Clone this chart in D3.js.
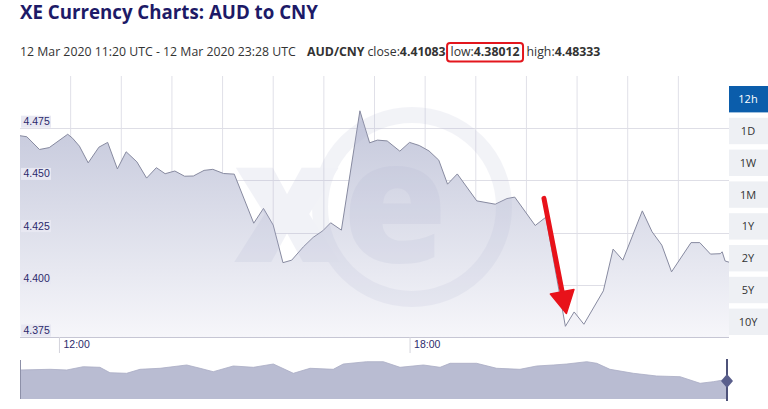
<!DOCTYPE html>
<html>
<head>
<meta charset="utf-8">
<script src="https://cdn.jsdelivr.net/npm/d3@7"></script>
<style>
  html, body { margin: 0; padding: 0; background: #fff; }
  svg { display: block; }
</style>
</head>
<body>
<svg id="chart" width="768" height="409"></svg>
<script>
// ---------------- DATA ----------------
const titleText = "XE Currency Charts: AUD to CNY";
const rangeText = "12 Mar 2020 11:20 UTC - 12 Mar 2020 23:28 UTC";
const pairText = "AUD/CNY";
const closeValue = "4.41083";
const lowValue = "4.38012";
const highValue = "4.48333";

const dateStr = "2020-03-12";
const startTime = "11:20";
const endTime = "23:28";

const times = ["11:20","11:27","11:40","11:50","12:09","12:14","12:21","12:30","12:41","12:50",
  "13:00","13:09","13:20","13:30","13:40","13:49","13:59","14:09","14:18","14:29",
  "14:38","14:49","15:00","15:20","15:30","15:40","15:50","15:59","16:11","16:21",
  "16:31","16:39","16:50","17:09","17:19","17:27","17:37","17:50","18:00","18:10",
  "18:20","18:30","18:39","18:49","19:09","19:28","19:40","19:48","20:09","20:20",
  "20:40","20:49","20:59","21:19","21:29","21:39","21:59","22:09","22:19","22:29",
  "22:49","22:58","23:09","23:19","23:21","23:24","23:28"];
const rates = [4.4714,4.4709,4.4648,4.4657,4.4721,4.4702,4.4664,4.4584,4.4659,4.4682,
  4.4555,4.4637,4.4589,4.4511,4.4561,4.4532,4.4545,4.4520,4.4521,4.4548,
  4.4553,4.4533,4.4530,4.4295,4.4366,4.4286,4.4106,4.4118,4.4182,4.4227,
  4.4259,4.4297,4.4262,4.48333,4.4680,4.4693,4.4689,4.4640,4.4682,4.4667,
  4.4641,4.4597,4.4482,4.4531,4.4402,4.4386,4.4413,4.4420,4.4284,4.4324,
  4.38012,4.3870,4.3811,4.3971,4.4171,4.4118,4.4354,4.4254,4.4190,4.4062,
  4.4202,4.4202,4.4147,4.4149,4.4158,4.4114,4.41083];

const yDomain = [4.375, 4.5];
const yTicks = [4.375, 4.400, 4.425, 4.450, 4.475];
const xTickLabels = ["12:00", "18:00"];

// navigator (longer history, hours from start of navigator window)
const navHours = [0,1.53,2.38,3.22,4.07,4.58,5.43,6.11,7.13,8.49,9.17,9.84,10.86,11.88,12.9,13.92,
  14.77,15.95,16.46,17.65,18.5,19.35,20.54,21.39,21.9,23.25,24.27,25.46,26.31,27.16,27.84,
  28.86,29.37,30.04,31.23,32.42,33.61,34.63,35.3,35.81,36];
const navRates = [4.4636,4.4675,4.4636,4.4822,4.4788,4.4484,4.4450,4.4675,4.4732,4.4918,4.4732,4.4540,
  4.4862,4.4788,4.4974,4.4450,4.4732,4.4675,4.4974,4.5104,4.5104,4.4788,4.4918,4.4788,4.5014,
  4.5014,4.4732,4.4675,4.4862,4.4918,4.4974,4.5104,4.5014,4.4675,4.4450,4.4297,4.4258,4.3886,
  4.3976,4.4072,4.4072];
const navDomain = [4.30, 4.52];

const rangeButtons = ["12h","1D","1W","1M","1Y","2Y","5Y","10Y"];
const activeRange = "12h";

// annotation arrow (points in data space)
const arrowFrom = { t: "20:18", v: 4.4414 };
const arrowTo = { t: "20:41", v: 4.3863 };

// ---------------- DRAW ----------------
const parse = d3.utcParse("%Y-%m-%d %H:%M");
const T = s => parse(dateStr + " " + s);
const data = times.map((t, i) => ({ t: T(t), v: rates[i] }));

const svg = d3.select("#chart");
const M = { left: 20, right: 729, top: 76, bottom: 337 };

const x = d3.scaleUtc().domain([T(startTime), T(endTime)]).range([M.left, M.right]);
const y = d3.scaleLinear().domain(yDomain).range([M.bottom, M.top]);

// Title (fit to reference width)
const title = svg.append("text")
  .attr("x", 20).attr("y", 19)
  .attr("font-family", "'Open Sans', sans-serif")
  .attr("font-weight", 700).attr("font-size", 18)
  .attr("fill", "#1d1a67")
  .text(titleText);
{
  const w = title.node().getComputedTextLength();
  if (w > 0) title.attr("font-size", Math.min(20, 18 * 298 / w));
}

// Subtitle: sequential segments measured in place
const sub = svg.append("g")
  .attr("font-family", "'Open Sans', sans-serif")
  .attr("font-size", 12.3).attr("fill", "#333");
sub.append("text").attr("x", 20).attr("y", 56).text(rangeText);
const segs = [
  { t: pairText, b: true, gap: 0 },
  { t: "close:", b: false, gap: 3 },
  { t: closeValue, b: true, gap: 0 },
  { t: "low:", b: false, gap: 5, low: true },
  { t: lowValue, b: true, gap: 0, low: true },
  { t: "high:", b: false, gap: 7 },
  { t: highValue, b: true, gap: 0 }
];
let cx = 307, lowStart = null, lowEnd = null;
segs.forEach(s => {
  cx += s.gap;
  const el = sub.append("text").attr("x", cx).attr("y", 56)
    .attr("font-weight", s.b ? 700 : 400).text(s.t);
  const w = el.node().getComputedTextLength();
  if (s.low && lowStart === null) lowStart = cx;
  if (s.low) lowEnd = cx + w;
  cx += w;
});

// red box around low
svg.append("rect")
  .attr("x", lowStart - 3.5).attr("y", 43).attr("width", lowEnd - lowStart + 7).attr("height", 18.5).attr("rx", 3)
  .attr("fill", "none").attr("stroke", "#e3161d").attr("stroke-width", 2);

// gradient
const defs = svg.append("defs");
const grad = defs.append("linearGradient").attr("id", "areaGrad")
  .attr("gradientUnits", "userSpaceOnUse")
  .attr("x1", 0).attr("x2", 0).attr("y1", M.top).attr("y2", M.bottom);
grad.append("stop").attr("offset", 0).attr("stop-color", "#bcc0d6");
grad.append("stop").attr("offset", 1).attr("stop-color", "#f6f6fa");

// gridlines
const gx = d3.scaleLinear().domain([0, 14]).range([M.left, M.right]);
svg.append("g").selectAll("line").data(d3.range(1, 14)).join("line")
  .attr("x1", d => gx(d)).attr("x2", d => gx(d))
  .attr("y1", M.top).attr("y2", M.bottom)
  .attr("stroke", "#e0e0e8").attr("stroke-width", 1);
svg.append("g").selectAll("line").data(yTicks.slice(1)).join("line")
  .attr("x1", M.left).attr("x2", M.right)
  .attr("y1", d => Math.round(y(d)) + 0.5).attr("y2", d => Math.round(y(d)) + 0.5)
  .attr("stroke", "#dedee6").attr("stroke-width", 1);

// area + line
svg.append("path").datum(data)
  .attr("fill", "url(#areaGrad)")
  .attr("d", d3.area().x(d => x(d.t)).y0(M.bottom).y1(d => y(d.v)));
svg.append("path").datum(data)
  .attr("fill", "none").attr("stroke", "#878aa0").attr("stroke-width", 1)
  .attr("d", d3.line().x(d => x(d.t)).y(d => y(d.v)));

// watermark
const wm = svg.append("g").attr("opacity", 0.16).attr("pointer-events", "none");
wm.append("circle").attr("cx", 412).attr("cy", 207).attr("r", 92)
  .attr("fill", "none").attr("stroke", "#b4b8d4").attr("stroke-width", 16);
wm.append("text").attr("x", 287).attr("y", 262).attr("text-anchor", "middle")
  .attr("font-family", "'Open Sans', sans-serif").attr("font-weight", 800)
  .attr("font-size", 170).attr("fill", "#aeb2d0").text("x");
wm.append("text").attr("x", 395).attr("y", 262).attr("text-anchor", "middle")
  .attr("font-family", "'Open Sans', sans-serif").attr("font-weight", 800)
  .attr("font-size", 170).attr("fill", "#aeb2d0").text("e");

// y labels
const yl = svg.append("g").attr("font-family", "'Liberation Sans', Arial, sans-serif").attr("font-size", 10.5);
yTicks.forEach(v => {
  const yy = y(v);
  yl.append("rect").attr("x", 21).attr("y", yy - 12.5).attr("width", 30).attr("height", 12)
    .attr("fill", "#e8e8f2");
  yl.append("text").attr("x", 23.5).attr("y", yy - 3).attr("fill", "#2c2a6c").text(d3.format(".3f")(v));
});

// x axis
svg.append("line").attr("x1", M.left).attr("x2", M.right)
  .attr("y1", M.bottom + 0.5).attr("y2", M.bottom + 0.5)
  .attr("stroke", "#c6c6d4").attr("stroke-width", 1);
const xAxis = d3.axisBottom(x)
  .tickValues(xTickLabels.map(T))
  .tickFormat(d3.utcFormat("%H:%M"))
  .tickSize(16).tickSizeOuter(0);
const xg = svg.append("g").attr("transform", `translate(0,${M.bottom})`).call(xAxis);
xg.select(".domain").remove();
xg.selectAll(".tick line").attr("stroke", "#d4d4dc");
xg.selectAll(".tick text")
  .attr("x", 4).attr("y", 4).attr("dy", "0.71em").attr("text-anchor", "start")
  .attr("font-family", "'Liberation Sans', Arial, sans-serif").attr("font-size", 10.5)
  .attr("fill", "#2c2a6c");

// red arrow annotation
(function () {
  const x0 = x(T(arrowFrom.t)), y0 = y(arrowFrom.v);
  const x1 = x(T(arrowTo.t)), y1 = y(arrowTo.v);
  const dx = x1 - x0, dy = y1 - y0, L = Math.hypot(dx, dy);
  const ux = dx / L, uy = dy / L, px = -uy, py = ux;
  const headL = 22, headW = 12;
  const bx = x1 - ux * headL, by = y1 - uy * headL;
  svg.append("line").attr("x1", x0).attr("y1", y0).attr("x2", bx + ux * 2).attr("y2", by + uy * 2)
    .attr("stroke", "#e8121a").attr("stroke-width", 5).attr("stroke-linecap", "round");
  svg.append("path")
    .attr("d", `M${x1},${y1}L${bx + px * headW},${by + py * headW}L${bx - px * headW},${by - py * headW}Z`)
    .attr("fill", "#e8121a").attr("stroke", "#e8121a").attr("stroke-width", 1.5).attr("stroke-linejoin", "round");
})();

// range buttons
const rb = d3.scaleBand().domain(rangeButtons).range([86, 335]).paddingInner(0.17).paddingOuter(0);
const btn = svg.append("g").selectAll("g").data(rangeButtons).join("g");
btn.append("rect").attr("x", 729).attr("y", d => rb(d)).attr("width", 39).attr("height", rb.bandwidth())
  .attr("fill", d => d === activeRange ? "#0b5dab" : "#eef0f4");
btn.append("text").attr("x", 748).attr("y", d => rb(d) + rb.bandwidth() / 2 + 4)
  .attr("text-anchor", "middle")
  .attr("font-family", "'Open Sans', sans-serif").attr("font-size", 11)
  .attr("fill", d => d === activeRange ? "#fff" : "#333").text(d => d);

// navigator
const nx = d3.scaleLinear().domain([0, 36]).range([20, 727]);
const ny = d3.scaleLinear().domain(navDomain).range([399, 360]);
const navData = navHours.map((h, i) => ({ h, v: navRates[i] }));
svg.append("path").datum(navData)
  .attr("fill", "#b9bcd2")
  .attr("d", d3.area().x(d => nx(d.h)).y0(399).y1(d => ny(d.v)));
svg.append("path").datum(navData)
  .attr("fill", "none").attr("stroke", "#a9acc4").attr("stroke-width", 0.8)
  .attr("d", d3.line().x(d => nx(d.h)).y(d => ny(d.v)));
svg.append("line").attr("x1", 20.5).attr("x2", 20.5).attr("y1", 360).attr("y2", 399)
  .attr("stroke", "#8d90a8").attr("stroke-width", 1);
svg.append("line").attr("x1", 727).attr("x2", 727).attr("y1", 359).attr("y2", 401)
  .attr("stroke", "#4e5279").attr("stroke-width", 2);
svg.append("path").attr("d", "M727,374L733,381L727,388L721,381Z").attr("fill", "#5a5f8c");
</script>
</body>
</html>
